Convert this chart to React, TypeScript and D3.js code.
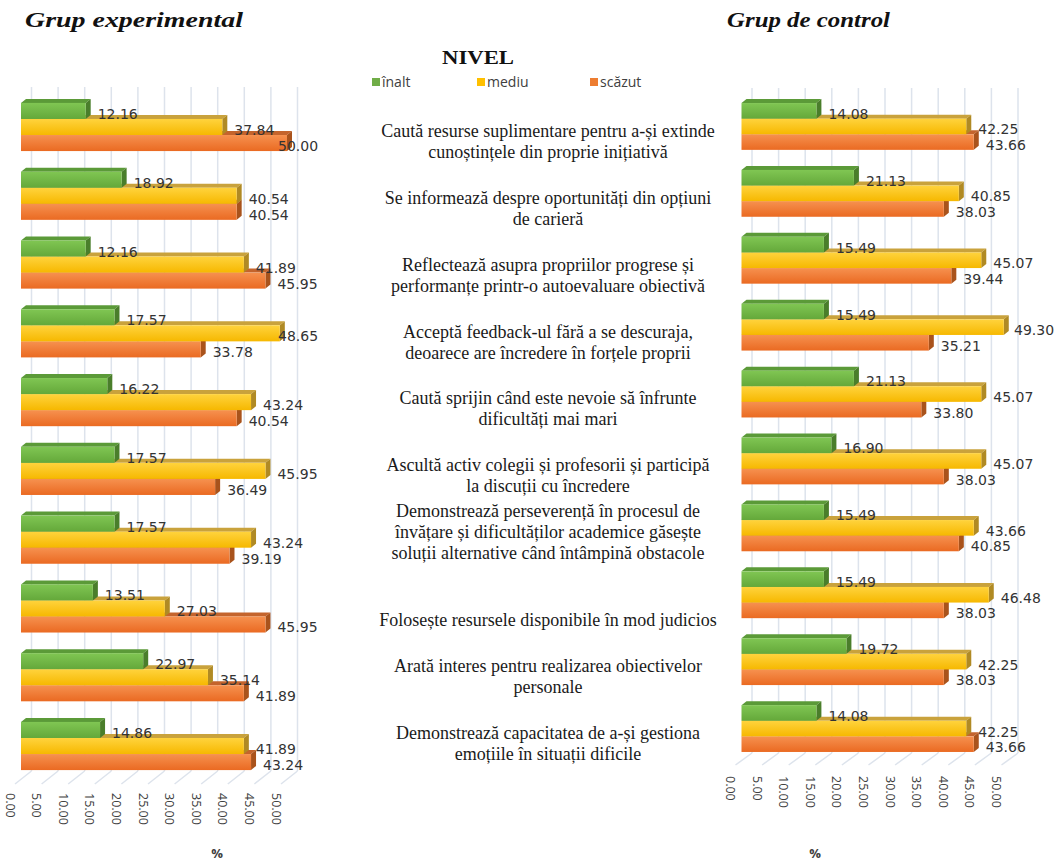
import React from 'react';
import * as d3 from 'd3';

const categories: string[][] = [
  ['Caută resurse suplimentare pentru a-și extinde', 'cunoștințele din proprie inițiativă'],
  ['Se informează despre oportunități din opțiuni', 'de carieră'],
  ['Reflectează asupra propriilor progrese și', 'performanțe printr-o autoevaluare obiectivă'],
  ['Acceptă feedback-ul fără a se descuraja,', 'deoarece are încredere în forțele proprii'],
  ['Caută sprijin când este nevoie să înfrunte', 'dificultăți mai mari'],
  ['Ascultă activ colegii și profesorii și participă', 'la discuții cu încredere'],
  ['Demonstrează perseverență în procesul de', 'învățare și dificultăților academice găsește', 'soluții alternative când întâmpină obstacole'],
  ['Folosește resursele disponibile în mod judicios'],
  ['Arată interes pentru realizarea obiectivelor', 'personale'],
  ['Demonstrează capacitatea de a-și gestiona', 'emoțiile în situații dificile'],
];

const levels = ['înalt', 'mediu', 'scăzut'];

const expInalt = [12.16, 18.92, 12.16, 17.57, 16.22, 17.57, 17.57, 13.51, 22.97, 14.86];
const expMediu = [37.84, 40.54, 41.89, 48.65, 43.24, 45.95, 43.24, 27.03, 35.14, 41.89];
const expScazut = [50.0, 40.54, 45.95, 33.78, 40.54, 36.49, 39.19, 45.95, 41.89, 43.24];

const ctrlInalt = [14.08, 21.13, 15.49, 15.49, 21.13, 16.9, 15.49, 15.49, 19.72, 14.08];
const ctrlMediu = [42.25, 40.85, 45.07, 49.3, 45.07, 45.07, 43.66, 46.48, 42.25, 42.25];
const ctrlScazut = [43.66, 38.03, 39.44, 35.21, 33.8, 38.03, 40.85, 38.03, 38.03, 43.66];

const tickValues = [0, 5, 10, 15, 20, 25, 30, 35, 40, 45, 50];

const frontTop = ['#80c653', '#ffd33d', '#f6914f'];
const frontBottom = ['#64a83a', '#f6b800', '#ea6a22'];
const topFace = ['#5b9a38', '#c9a23c', '#c4642c'];
const sideFace = ['#4a7e2b', '#b08a24', '#a9531c'];
const legendColors = ['#70ad47', '#ffc000', '#ed7d31'];

type Panel = {
  id: string;
  x0: number;
  x1: number;
  top: number;
  bottom: number;
  gridTop: number;
  floorBackY: number;
  floorFrontY: number;
  labelRight: number;
  tickY: number;
  series: number[][];
};

const panels: Panel[] = [
  {
    id: 'exp', x0: 21, x1: 287, top: 92.6, bottom: 780.4, gridTop: 87,
    floorBackY: 771, floorFrontY: 784, labelRight: 318, tickY: 793,
    series: [expInalt, expMediu, expScazut],
  },
  {
    id: 'ctrl', x0: 741.5, x1: 1007.5, top: 93, bottom: 762, gridTop: 88,
    floorBackY: 753, floorFrontY: 765, labelRight: 1054, tickY: 776,
    series: [ctrlInalt, ctrlMediu, ctrlScazut],
  },
];

const WALL_DX = 10.5;
const FLOOR_FRONT_DX = -6;
const BAR_DX = 5;
const BAR_DY = 4;

function PanelView({ p }: { p: Panel }) {
  const x = d3.scaleLinear().domain([0, 50]).range([p.x0, p.x1]);
  const idx = categories.map((_, i) => String(i));
  const yGroup = d3.scaleBand<string>().domain(idx).range([p.top, p.bottom]).paddingInner(0.3).paddingOuter(0.15);
  const yInner = d3.scaleBand<string>().domain(['0', '1', '2']).range([0, yGroup.bandwidth()]);
  const h = yInner.bandwidth();

  const bars: React.ReactNode[] = [];
  const labels: React.ReactNode[] = [];
  idx.forEach((g, gi) => {
    const gy = yGroup(g)!;
    [2, 1, 0].forEach((s) => {
      const v = p.series[s][gi];
      const y = gy + yInner(String(s))!;
      const xs = x(0);
      const xe = x(v);
      const topPts = [[xs, y], [xe, y], [xe + BAR_DX, y - BAR_DY], [xs + BAR_DX, y - BAR_DY]];
      const sidePts = [[xe, y], [xe + BAR_DX, y - BAR_DY], [xe + BAR_DX, y + h - BAR_DY], [xe, y + h]];
      bars.push(
        <g key={`b-${g}-${s}`}>
          <polygon points={topPts.map((q) => q.join(',')).join(' ')} fill={topFace[s]} />
          <polygon points={sidePts.map((q) => q.join(',')).join(' ')} fill={sideFace[s]} />
          <rect x={xs} y={y} width={xe - xs} height={h} fill={`url(#grad-${s})`} />
        </g>
      );
      const lw = 40;
      const lx = Math.min(xe + 12, p.labelRight - lw);
      labels.push(
        <text key={`l-${g}-${s}`} x={lx} y={y + h / 2 + 3} dominantBaseline="central"
          fontFamily="DejaVu Sans, sans-serif" fontSize={14} fill="#333">
          {d3.format('.2f')(v)}
        </text>
      );
    });
  });

  return (
    <g>
      {tickValues.map((t) => (
        <g key={`grid-${t}`}>
          <line x1={x(t) + WALL_DX} x2={x(t) + WALL_DX} y1={p.gridTop} y2={p.floorBackY}
            stroke="#dde3ec" strokeWidth={1.5} />
          <line x1={x(t) + WALL_DX} x2={x(t) + FLOOR_FRONT_DX} y1={p.floorBackY} y2={p.floorFrontY}
            stroke="#dde3ec" strokeWidth={1.5} />
          <text transform={`translate(${x(t) + FLOOR_FRONT_DX - 5},${p.tickY}) rotate(90)`}
            dominantBaseline="central" fontFamily="Open Sans, sans-serif" fontSize={12.5} fill="#404040">
            {d3.format('.2f')(t)}
          </text>
        </g>
      ))}
      {bars}
      {labels}
    </g>
  );
}

export default function App() {
  const ctrl = panels[1];
  const yGroup = d3.scaleBand<string>().domain(categories.map((_, i) => String(i)))
    .range([ctrl.top, ctrl.bottom]).paddingInner(0.3).paddingOuter(0.15);
  const lineH = 21;
  return (
    <svg width={1056} height={865} style={{ position: 'absolute', left: 0, top: 0, background: '#fff' }}>
      <defs>
        {[0, 1, 2].map((s) => (
          <linearGradient key={s} id={`grad-${s}`} x1="0" y1="0" x2="0" y2="1">
            <stop offset="0%" stopColor={frontTop[s]} />
            <stop offset="100%" stopColor={frontBottom[s]} />
          </linearGradient>
        ))}
      </defs>
      <rect width={1056} height={865} fill="#fff" />
      <text x={25} y={27} fontFamily="Liberation Serif, serif" fontWeight="bold" fontStyle="italic"
        fontSize={22} textLength={218} lengthAdjust="spacingAndGlyphs" fill="#111">Grup experimental</text>
      <text x={727} y={27} fontFamily="Liberation Serif, serif" fontWeight="bold" fontStyle="italic"
        fontSize={22} textLength={163} lengthAdjust="spacingAndGlyphs" fill="#111">Grup de control</text>
      <text x={442} y={64} fontFamily="Liberation Serif, serif" fontWeight="bold"
        fontSize={18} textLength={72} lengthAdjust="spacingAndGlyphs" fill="#111">NIVEL</text>
      {levels.map((l, i) => {
        const lx = [372, 477, 590][i];
        return (
          <g key={l}>
            <rect x={lx} y={78} width={8} height={8} fill={legendColors[i]} />
            <text x={lx + 10} y={87} fontFamily="Open Sans, sans-serif" fontSize={14} fill="#404040">{l}</text>
          </g>
        );
      })}
      {panels.map((p) => <PanelView key={p.id} p={p} />)}
      {categories.map((lines, i) => {
        const bottom = yGroup(String(i))! + yGroup.bandwidth();
        return (
          <text key={`cat-${i}`} textAnchor="middle" fontFamily="Liberation Serif, serif" fontSize={18} fill="#1a1a1a">
            {lines.map((ln, j) => (
              <tspan key={j} x={548} y={bottom + 2 - (lines.length - 1 - j) * lineH} dominantBaseline="central">{ln}</tspan>
            ))}
          </text>
        );
      })}
      <text x={217} y={858} textAnchor="middle" fontFamily="Open Sans, sans-serif" fontWeight="bold" fontSize={13} fill="#404040">%</text>
      <text x={815} y={858} textAnchor="middle" fontFamily="Open Sans, sans-serif" fontWeight="bold" fontSize={13} fill="#404040">%</text>
    </svg>
  );
}
